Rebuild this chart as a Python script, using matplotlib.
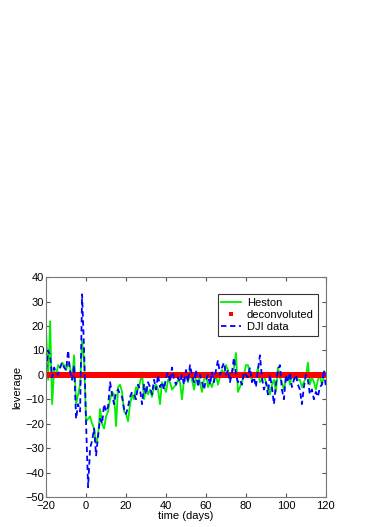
import numpy as np
import matplotlib
matplotlib.use("Agg")
import matplotlib.pyplot as plt

plt.rcParams['font.family'] = ['Liberation Sans', 'DejaVu Sans']

days = list(range(-20, 121))

heston = [18, -2, 22, -12, 2, 0, 4, 3, 5, 4, 2, 5, 3, -2, 8, -12, -8, -4, 14, 6,
          -19, -18, -17, -20, -22, -28, -25, -14, -20, -22, -17, -15, -10, -7, -8, -21, -5, -4, -7, -15,
          -16, -19, -12, -8, -10, -5, -6, -3, 1, -10, -5, -8, -6, -9, -5, -4, -6, -12, -3, -5,
          -7, -2, -3, -6, -5, -4, -2, -3, -10, -2, 1, -3, 2, -2, -6, -1, 0, -3, -7, -2,
          1, -5, -3, -5, -2, 0, -4, -1, 2, 0, 4, 2, -2, 1, 3, 9, -7, -5, -3, 0,
          4, 4, 0, -2, 1, -1, 3, -3, -2, 0, -3, -5, -8, -4, -2, -7, 3, -1, -3, -6,
          -2, 1, -4, 0, -2, -1, -2, -2, -5, -3, -1, 5, -4, -1, -3, -6, -2, 0, -4, -1, 1]

dji = [2, 10, 8, -1, 3, 1, 0, 3, 5, 3, 2, 10, 1, -2, 4, -18, -12, -15, 33, 10,
       -20, -46, -30, -27, -22, -33, -25, -18, -20, -12, -15, -13, -3, -8, -12, -7, -6, -8, -9, -14,
       -16, -13, -9, -7, -8, -10, -4, -6, -12, -4, -8, -3, -5, -8, -2, -6, 0, -5, -3, -6,
       -1, 1, -3, 3, -2, -4, -1, -3, 0, -4, 2, -3, 4, 0, -3, 2, -5, 0, -3, -6,
       -2, 0, -4, 1, -3, 2, 6, 0, 3, 5, 0, 2, -3, 1, 7, 0, -3, -2, -4, 1,
       0, -1, 3, -3, -1, -5, 2, 8, -1, -6, -3, -8, 0, -5, -12, -4, 2, 4, -6, -10,
       0, -3, 1, -5, -2, 0, -4, -6, -12, -5, 0, -2, -8, -6, -10, -7, -9, -5, -4, 2, -5]

deconv = [0.0] * len(days)

fig = plt.figure(figsize=(3.72, 5.27), dpi=100)
ax = fig.add_axes([0.124, 0.057, 0.752, 0.417])

ax.plot(days, heston, color='#00ee00', lw=1.3, label='Heston')
ax.plot(days, deconv, color='red', ls='none', marker='s', ms=3.8, mew=0, label='deconvoluted')
ax.plot(days, dji, color='blue', lw=1.3, ls=(0, (3, 2)), label='DJI data')

ax.set_xlim(-20, 120)
ax.set_ylim(-50, 40)
ax.set_xticks(range(-20, 121, 20))
ax.set_yticks(range(-50, 41, 10))
ax.set_xticklabels(['\u221220', '0', '20', '40', '60', '80', '100', '120'])
ax.set_yticklabels(['\u221250', '\u221240', '\u221230', '\u221220', '\u221210', '0', '10', '20', '30', '40'])
ax.tick_params(direction='in', top=True, right=True, labelsize=8, length=3, color='#555555')
ax.tick_params(axis='y', pad=1.5)
ax.tick_params(axis='x', pad=3)
for s in ax.spines.values():
    s.set_color('#777777')
    s.set_linewidth(0.8)
ax.set_xlabel('time (days)', fontsize=8, labelpad=0)
ax.set_ylabel('leverage', fontsize=8, labelpad=2)

leg = ax.legend(loc='upper right', fontsize=8, fancybox=False, edgecolor='#333333',
                framealpha=1, borderpad=0.35, labelspacing=0.17, handlelength=1.75,
                handletextpad=0.55, numpoints=1, borderaxespad=0, markerscale=0.65,
                bbox_to_anchor=(0.971, 0.923))
leg.get_frame().set_linewidth(0.8)

fig.savefig('out.png', dpi=100)
